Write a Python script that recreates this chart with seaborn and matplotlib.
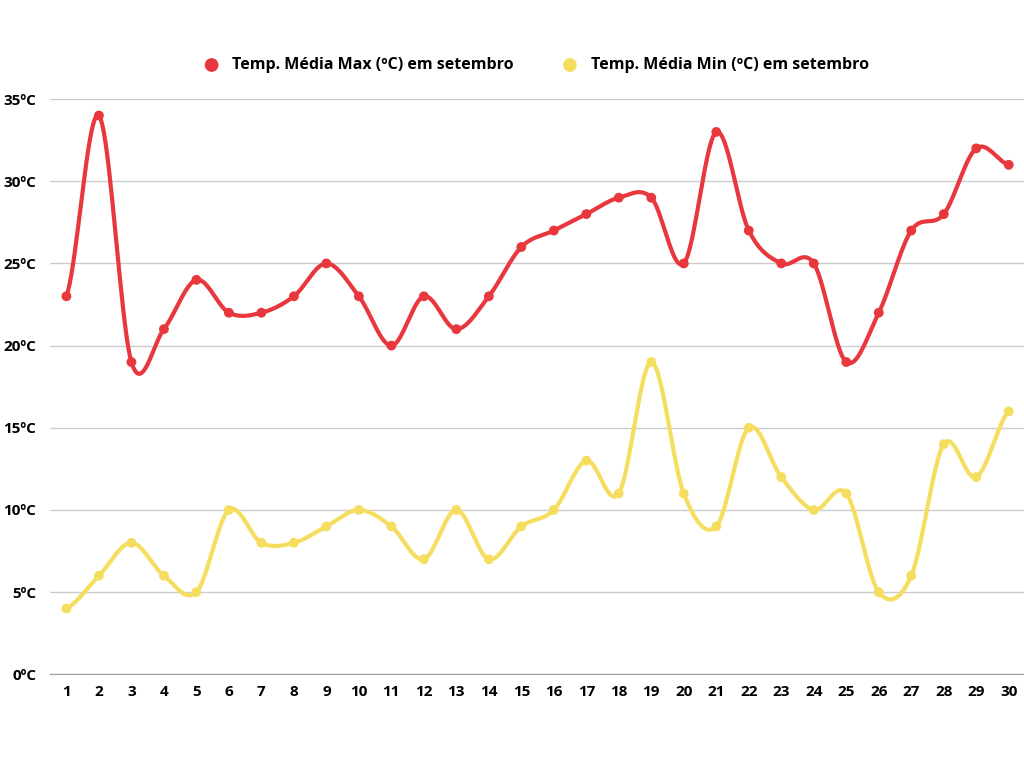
import numpy as np
import pandas as pd
import matplotlib
matplotlib.use("Agg")
import matplotlib.pyplot as plt
import seaborn as sns

days = list(range(1, 31))
temp_max = [23, 34, 19, 21, 24, 22, 22, 23, 25, 23, 20, 23, 21, 23, 26,
            27, 28, 29, 29, 25, 33, 27, 25, 25, 19, 22, 27, 28, 32, 31]
temp_min = [4, 6, 8, 6, 5, 10, 8, 8, 9, 10, 9, 7, 10, 7, 9,
            10, 13, 11, 19, 11, 9, 15, 12, 10, 11, 5, 6, 14, 12, 16]
label_max = "Temp. Média Max (ºC) em setembro"
label_min = "Temp. Média Min (ºC) em setembro"
red = "#E8383D"
yellow = "#F5DE5F"

plt.rcParams["font.family"] = "Open Sans"
plt.rcParams["font.weight"] = "bold"


def smooth(x, y, n=20):
    # Catmull-Rom curve through the points, just for drawing the line
    x = np.asarray(x, float)
    y = np.asarray(y, float)
    xs, ys = [], []
    for i in range(len(x) - 1):
        p0 = y[max(i - 1, 0)]
        p1, p2 = y[i], y[i + 1]
        p3 = y[min(i + 2, len(y) - 1)]
        t = np.linspace(0, 1, n, endpoint=False)
        ys.append(0.5 * (2 * p1 + (-p0 + p2) * t + (2 * p0 - 5 * p1 + 4 * p2 - p3) * t ** 2
                         + (-p0 + 3 * p1 - 3 * p2 + p3) * t ** 3))
        xs.append(x[i] + t * (x[i + 1] - x[i]))
    xs.append([x[-1]])
    ys.append([y[-1]])
    return np.concatenate(xs), np.concatenate(ys)


fig = plt.figure(figsize=(10.24, 7.68), dpi=100)
ax = fig.add_axes([0.049, 0.122, 0.951, 0.749])

for vals, col, lab in [(temp_max, red, label_max), (temp_min, yellow, label_min)]:
    sx, sy = smooth(days, vals)
    sns.lineplot(x=sx, y=sy, color=col, lw=3, ax=ax, sort=False)
    sns.scatterplot(x=days, y=vals, color=col, s=50, edgecolor="none", ax=ax,
                    label=lab, zorder=3)

ax.set_xlim(0.5, 30.47)
ax.set_ylim(0, 35)
ax.set_xticks(days)
ax.set_yticks(range(0, 36, 5))
ax.set_yticklabels([f"{v}ºC" for v in range(0, 36, 5)])
ax.tick_params(axis="x", length=0, labelsize=11, pad=8)
ax.tick_params(axis="y", length=0, labelsize=11, pad=10)
ax.grid(axis="y", color="#cccccc", lw=1)
ax.set_axisbelow(True)
for s in ["top", "right", "left"]:
    ax.spines[s].set_visible(False)
ax.spines["bottom"].set_color("#999999")
leg = ax.legend(loc="lower center", bbox_to_anchor=(0.495, 1.02), ncol=2, frameon=False,
                fontsize=11.5, markerscale=1.4, handletextpad=0.3, columnspacing=2.5)
for t in leg.get_texts():
    t.set_fontweight("bold")
ax.set_xlabel("")
ax.set_ylabel("")

fig.savefig("out.png", dpi=100)
